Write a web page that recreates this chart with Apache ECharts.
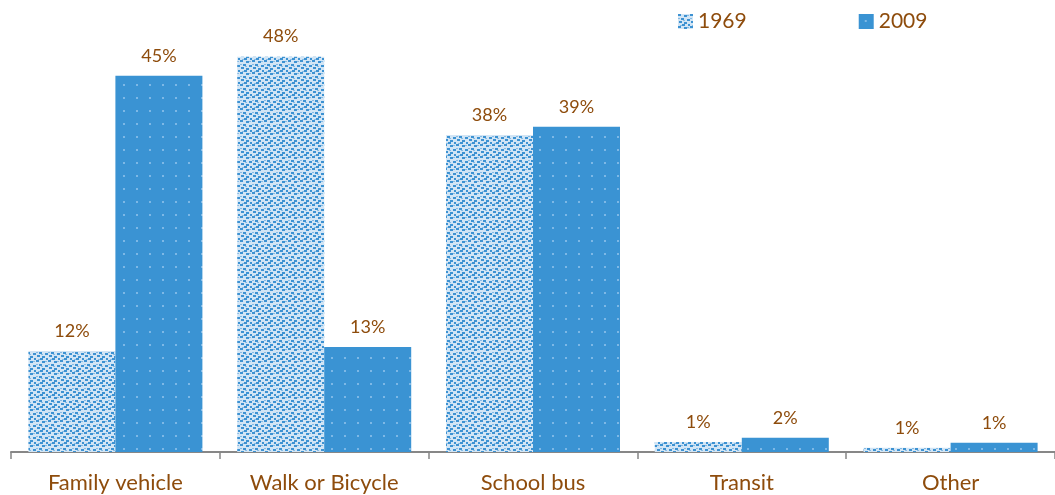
<!DOCTYPE html>
<html><head><meta charset="utf-8">
<script src="https://cdn.jsdelivr.net/npm/echarts@6/dist/echarts.min.js"></script>
<style>html,body{margin:0;padding:0;background:#fff}#c{width:1055px;height:495px}</style>
</head><body><div id="c"></div>
<script>
const categories = ['Family vehicle', 'Walk or Bicycle', 'School bus', 'Transit', 'Other'];
const seriesNames = ['1969', '2009'];
const values1969 = [12.1, 47.4, 38.0, 1.2, 0.5];
const values2009 = [45.1, 12.6, 39.0, 1.7, 1.1];
const labels1969 = ['12%', '48%', '38%', '1%', '1%'];
const labels2009 = ['45%', '13%', '39%', '2%', '1%'];

function patt1969() {
  const c = document.createElement('canvas'); c.width = 12; c.height = 12;
  const g = c.getContext('2d');
  g.fillStyle = '#d2e5f5'; g.fillRect(0, 0, 12, 12);
  g.fillStyle = '#3d92d2';
  [[0,0],[6,1],[3,4],[9,5],[1,7],[6,8],[10,10],[4,10]].forEach(p => g.fillRect(p[0], p[1], 3, 2));
  g.fillStyle = '#86bbe4';
  [[9,1],[0,4],[5,6],[2,11]].forEach(p => g.fillRect(p[0], p[1], 2, 1));
  return c;
}
function patt2009() {
  const c = document.createElement('canvas'); c.width = 13; c.height = 13;
  const g = c.getContext('2d');
  g.fillStyle = '#3a93d3'; g.fillRect(0, 0, 13, 13);
  g.fillStyle = '#7db8e6'; g.fillRect(6, 6, 2, 2);
  return c;
}
const txt = '#8e4c0c';
const chart = echarts.init(document.getElementById('c'));
const mkLabel = arr => ({show: true, position: 'top', distance: 11, color: txt, fontSize: 18, fontFamily: 'Lato',
  formatter: p => arr[p.dataIndex]});
chart.setOption({
  animation: false,
  legend: {left: 673, top: 6, itemWidth: 15, itemHeight: 15, itemGap: 112,
    textStyle: {color: txt, fontSize: 21, fontFamily: 'Lato'},
    data: [{name: seriesNames[0], icon: 'rect'}, {name: seriesNames[1], icon: 'rect'}]},
  grid: {left: 11, right: -6, top: 35, bottom: 43},
  xAxis: {type: 'category', data: categories,
    axisLine: {show: true, lineStyle: {color: '#878787', width: 2}},
    axisTick: {show: true, length: 7, lineStyle: {color: '#878787', width: 1.5}},
    axisLabel: {color: txt, fontSize: 22, fontFamily: 'Lato', margin: 20}},
  yAxis: {type: 'value', min: 0, max: 50, show: false, splitLine: {show: false}},
  series: [
    {name: seriesNames[0], type: 'bar', data: values1969, barWidth: 87, barGap: '0%',
      itemStyle: {color: {image: patt1969(), repeat: 'repeat'}}, label: mkLabel(labels1969)},
    {name: seriesNames[1], type: 'bar', data: values2009, barWidth: 87,
      itemStyle: {color: {image: patt2009(), repeat: 'repeat'}}, label: mkLabel(labels2009)}
  ]
});
</script></body></html>
